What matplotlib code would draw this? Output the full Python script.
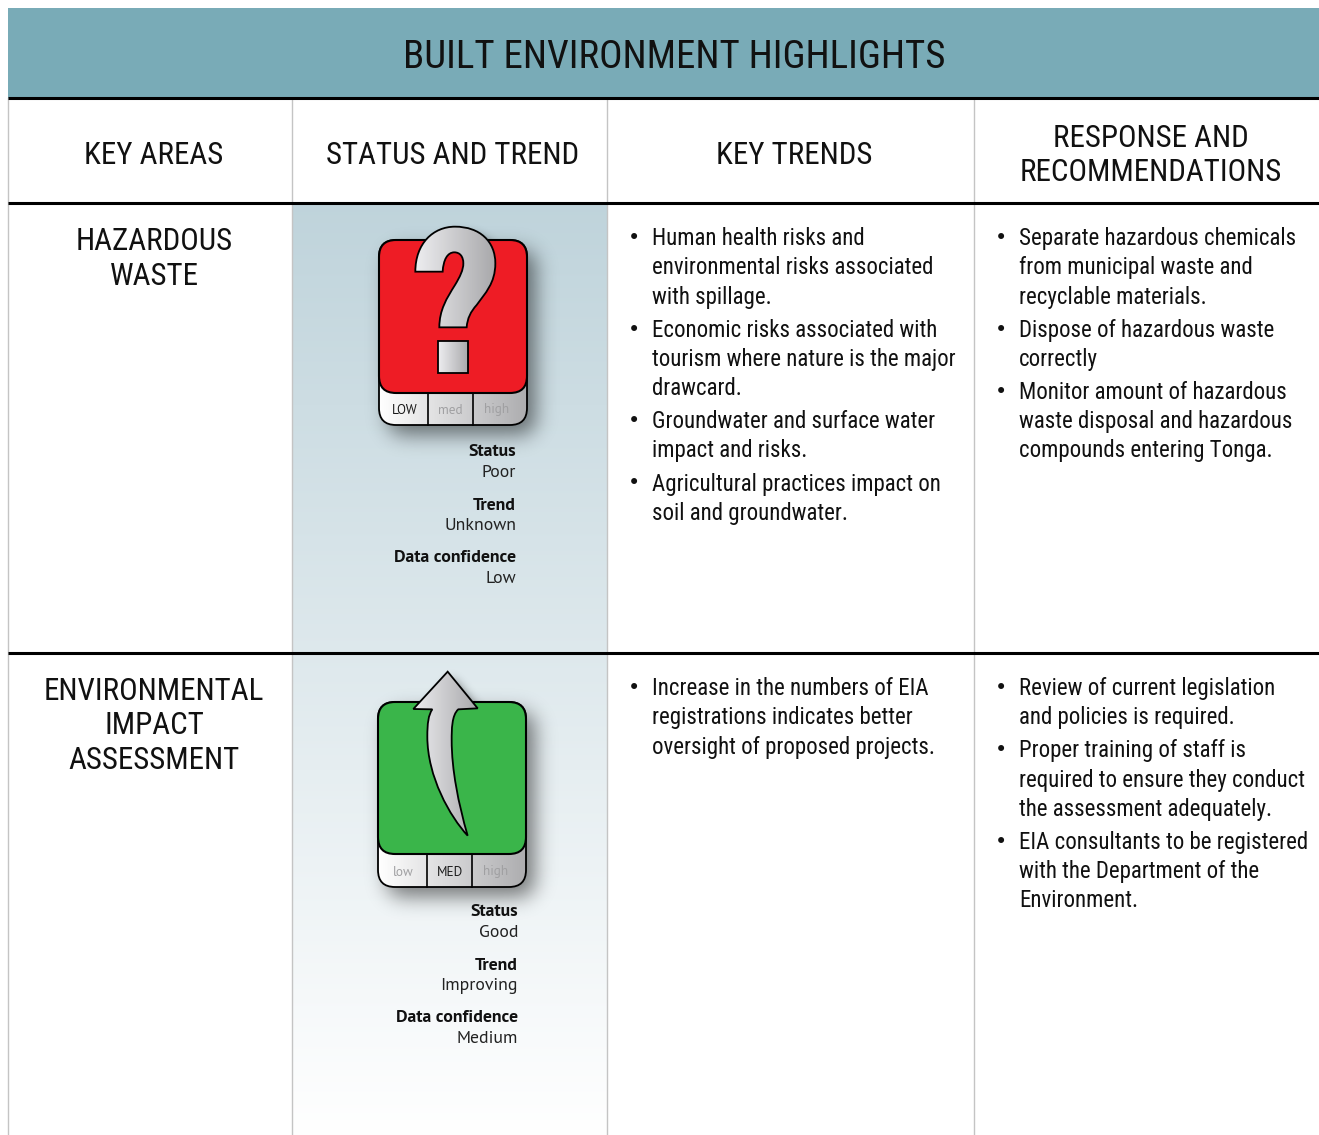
import numpy as np
import matplotlib
matplotlib.use("Agg")
import matplotlib.pyplot as plt
from matplotlib.patches import FancyBboxPatch, PathPatch, Rectangle
from matplotlib.path import Path

W, H = 1319, 1135
HEAD_FONT = ["Roboto Condensed", "Roboto", "DejaVu Sans"]
LABEL_FONT = ["PT Sans", "Open Sans", "DejaVu Sans"]

title = "BUILT ENVIRONMENT HIGHLIGHTS"
col_heads = ["KEY AREAS", "STATUS AND TREND", "KEY TRENDS", "RESPONSE AND\nRECOMMENDATIONS"]
row_heads = ["HAZARDOUS\nWASTE", "ENVIRONMENTAL\nIMPACT\nASSESSMENT"]

trends_1 = [["Human health risks and", "environmental risks associated", "with spillage."],
            ["Economic risks associated with", "tourism where nature is the major", "drawcard."],
            ["Groundwater and surface water", "impact and risks."],
            ["Agricultural practices impact on", "soil and groundwater."]]
resp_1 = [["Separate hazardous chemicals", "from municipal waste and", "recyclable materials."],
          ["Dispose of hazardous waste", "correctly"],
          ["Monitor amount of hazardous", "waste disposal and hazardous", "compounds entering Tonga."]]
trends_2 = [["Increase in the numbers of EIA", "registrations indicates better", "oversight of proposed projects."]]
resp_2 = [["Review of current legislation", "and policies is required."],
          ["Proper training of staff is", "required to ensure they conduct", "the assessment adequately."],
          ["EIA consultants to be registered", "with the Department of the", "Environment."]]

status_1 = [("Status", "Poor"), ("Trend", "Unknown"), ("Data confidence", "Low")]
status_2 = [("Status", "Good"), ("Trend", "Improving"), ("Data confidence", "Medium")]
scale_1 = ["LOW", "med", "high"]
scale_2 = ["low", "MED", "high"]

question_verts = [(226, 185), (226, 100), (280, 50), (345, 50), (420, 50), (466, 95), (466, 160),
                  (466, 220), (435, 250), (410, 285), (392, 305), (382, 325), (380, 352), (298, 352),
                  (298, 300), (320, 265), (345, 225), (360, 200), (370, 180), (370, 160),
                  (370, 140), (360, 127), (343, 127), (322, 127), (310, 150), (308, 185), (226, 185)]
question_codes = [Path.MOVETO] + [Path.CURVE4] * 12 + [Path.LINETO] + [Path.CURVE4] * 12 + [Path.CLOSEPOLY]
dot_verts = [(293, 392), (385, 392), (385, 490), (293, 490), (293, 392)]
dot_codes = [Path.MOVETO, Path.LINETO, Path.LINETO, Path.LINETO, Path.CLOSEPOLY]
arrow_verts = [(323, 35), (413, 145), (355, 148), (335, 165), (335, 210), (335, 240),
               (335, 330), (355, 430), (383, 527), (330, 470), (262, 350), (262, 230),
               (262, 190), (265, 165), (277, 148), (220, 147), (220, 147)]
arrow_codes = [Path.MOVETO, Path.LINETO, Path.LINETO] + [Path.CURVE4] * 12 + [Path.LINETO, Path.CLOSEPOLY]


def zoom_path(verts, codes, ox, oy):
    v = np.array(verts, dtype=float) / 3.0 + [ox, oy]
    return Path(v, codes)


def rounded(x0, y0, x1, y1, r):
    box = FancyBboxPatch((x0, y0), x1 - x0, y1 - y0, boxstyle="round,pad=0,rounding_size=%s" % r)
    return box.get_path()


def soft_shadow(ax, path, dx, dy, sigma, alpha):
    # rasterise the outline, blur it by hand, draw it as a black alpha image
    b = path.get_extents()
    pad = int(sigma * 3) + 2
    x0, x1 = int(b.x0 + dx) - pad, int(b.x1 + dx) + pad
    y0, y1 = int(b.y0 + dy) - pad, int(b.y1 + dy) + pad
    xs, ys = np.meshgrid(np.arange(x0, x1) + 0.5, np.arange(y0, y1) + 0.5)
    pts = np.column_stack([xs.ravel() - dx, ys.ravel() - dy])
    mask = path.contains_points(pts).reshape(xs.shape).astype(float)
    t = np.arange(-pad, pad + 1)
    g = np.exp(-t ** 2 / (2.0 * sigma ** 2))
    g /= g.sum()
    mask = np.apply_along_axis(lambda m: np.convolve(m, g, mode="same"), 0, mask)
    mask = np.apply_along_axis(lambda m: np.convolve(m, g, mode="same"), 1, mask)
    img = np.zeros(mask.shape + (4,))
    img[..., 3] = mask * alpha
    ax.imshow(img, extent=(x0, x1, y1, y0), aspect="auto", interpolation="bilinear", zorder=3)


def grad_fill(ax, path, left, right, zorder=4):
    b = path.get_extents()
    g = np.linspace(0, 1, 64)[None, :, None]
    img = (1 - g) * np.array(left)[None, None, :] + g * np.array(right)[None, None, :]
    patch = PathPatch(path, fc="none", ec="none", zorder=zorder)
    ax.add_patch(patch)
    im = ax.imshow(img, extent=(b.x0, b.x1, b.y1, b.y0), aspect="auto", zorder=zorder)
    im.set_clip_path(patch)
    ax.add_patch(PathPatch(path, fc="none", ec="black", lw=1.3, zorder=zorder + 0.5))


def draw_icon(ax, box, face, div, symbol, labels, label_y, active):
    x0, y0, ymid, x1, y1 = box
    outer = rounded(x0, y0, x1, y1, 17)
    soft_shadow(ax, outer, 9, 10, 10, 0.5)
    grad_fill(ax, outer, (1, 1, 1), (0.68, 0.68, 0.69))
    top = PathPatch(rounded(x0, y0, x1, ymid, 17), fc=face, ec="black", lw=1.5, zorder=5)
    ax.add_patch(top)
    for d in div:
        ax.plot([d, d], [ymid, y1], color="black", lw=1.2, zorder=5)
    cx = [(x0 + div[0]) / 2 + 1, (div[0] + div[1]) / 2, (div[1] + x1) / 2 - 3]
    for i in range(3):
        ax.text(cx[i], label_y, labels[i], ha="center", va="center", fontsize=9.5,
                family=LABEL_FONT, color="#1a1a1a" if i == active else "#a0a0a2", zorder=6)
    for p in symbol:
        soft_shadow(ax, p, 5, 7, 5, 0.55)
    for p in symbol:
        grad_fill(ax, p, (0.93, 0.93, 0.94), (0.66, 0.66, 0.67), zorder=7)


def draw_status(ax, items, xr, ystart):
    y = ystart
    for head, val in items:
        ax.text(xr, y, head, ha="right", va="center", fontsize=12.8, family=LABEL_FONT, weight="bold", color="#111111")
        ax.text(xr, y + 21, val, ha="right", va="center", fontsize=12.8, family=LABEL_FONT, color="#222222")
        y += 53


def draw_bullets(ax, groups, x, ystart):
    # baseline alignment keeps lines level whether or not they have descenders
    y = ystart
    for g in groups:
        ax.text(x - 18, y + 1, "\u2022", ha="center", va="center", fontsize=15, family="DejaVu Sans", color="#111111")
        for line in g:
            ax.text(x, y + 8, line, ha="left", va="baseline", fontsize=16.5, family=HEAD_FONT, color="#111111")
            y += 29.3
        y += 3.7


fig = plt.figure(figsize=(W / 100, H / 100), dpi=100)
ax = fig.add_axes([0, 0, 1, 1])
ax.axis("off")

# banner and status column background
ax.add_patch(Rectangle((8, 8), W - 8, 90, fc="#79abb7", ec="none", zorder=1))
shade = np.linspace(0, 1, 1024)[:, None, None]
bg = (1 - shade) * np.array([0.75, 0.83, 0.86])[None, None, :] + shade * np.array([1.0, 1.0, 1.0])[None, None, :]
ax.imshow(bg, extent=(292, 607, H, 204), aspect="auto", zorder=1, interpolation="bilinear")

# grid
for x in [8, 292, 607, 974]:
    ax.plot([x, x], [98, H], color="#c4c4c4", lw=1.0, zorder=2)
for y in [98, 203, 653]:
    ax.plot([8, W], [y, y], color="black", lw=2.2, zorder=2, solid_capstyle="butt")

ax.text(674, 58, title, ha="center", va="center", fontsize=28, family=HEAD_FONT, color="#111111")
col_x = [154, 453, 794, 1151]
for x, t in zip(col_x, col_heads):
    ax.text(x, 155.5, t, ha="center", va="center", fontsize=22.3, family=HEAD_FONT, color="#111111", linespacing=1.26)
ax.text(154, 259, row_heads[0], ha="center", va="center", fontsize=22.3, family=HEAD_FONT, color="#111111", linespacing=1.26)
ax.text(154, 726, row_heads[1], ha="center", va="center", fontsize=22.3, family=HEAD_FONT, color="#111111", linespacing=1.26)

q_path = zoom_path(question_verts, question_codes, 340, 210)
d_path = zoom_path(dot_verts, dot_codes, 340, 210)
a_path = zoom_path(arrow_verts, arrow_codes, 340, 660)
draw_icon(ax, (379, 240, 393, 527, 425), "#ee1c25", (428, 473), [q_path, d_path], scale_1, 410, 0)
draw_icon(ax, (378, 702, 854, 526, 887), "#3ab54a", (427, 472), [a_path], scale_2, 872, 1)

draw_status(ax, status_1, 516, 452)
draw_status(ax, status_2, 518, 912)

draw_bullets(ax, trends_1, 652, 237)
draw_bullets(ax, resp_1, 1019, 237)
draw_bullets(ax, trends_2, 652, 687)
draw_bullets(ax, resp_2, 1019, 687)

ax.set_xlim(0, W)
ax.set_ylim(H, 0)
fig.savefig("out.png", dpi=100, facecolor="white")
